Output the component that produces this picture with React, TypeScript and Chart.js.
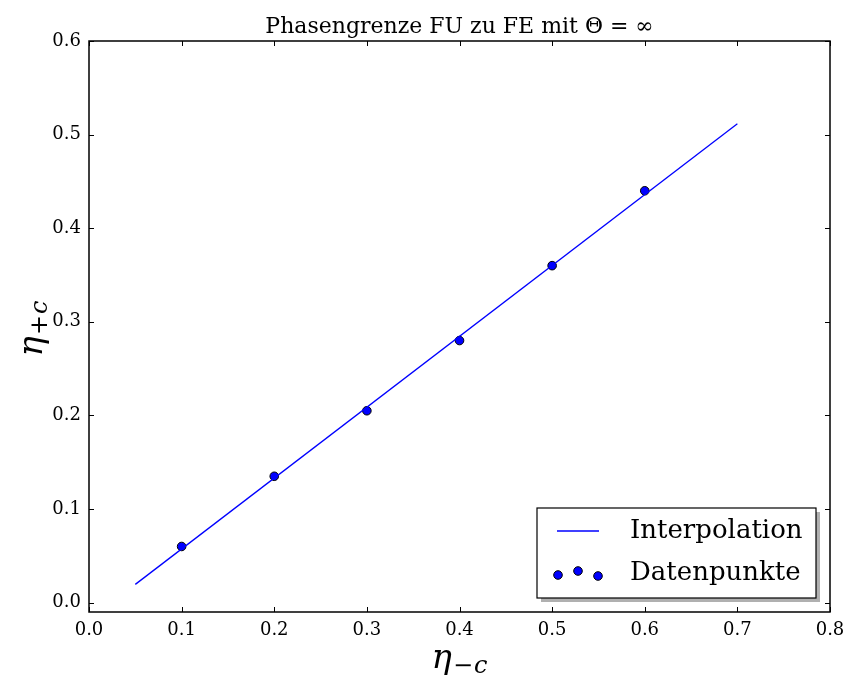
import React, { useEffect, useRef } from "react";
import { Chart, registerables } from "chart.js";

Chart.register(...registerables);

// Measured points of the phase boundary
const ETA_MINUS: number[] = [0.1, 0.2, 0.3, 0.4, 0.5, 0.6];
const ETA_PLUS: number[] = [0.06, 0.135, 0.205, 0.28, 0.36, 0.44];

// Endpoints of the interpolating straight line
const FIT_X: number[] = [0.05, 0.7];
const FIT_Y: number[] = [0.0195, 0.5116];

const X_TICKS: number[] = [0, 0.1, 0.2, 0.3, 0.4, 0.5, 0.6, 0.7, 0.8];
const Y_TICKS: number[] = [0, 0.1, 0.2, 0.3, 0.4, 0.5, 0.6];

const TITLE = "Phasengrenze FU zu FE mit \u0398 = \u221E";
const LEGEND_LINE = "Interpolation";
const LEGEND_POINTS = "Datenpunkte";

const SERIF = "'DejaVu Serif', 'Liberation Serif', serif";
const BLUE = "#0000ff";

const decorPlugin = {
  id: "decor",
  afterDraw(chart: any) {
    const { ctx, chartArea: a, scales } = chart;
    const xs = scales.x;
    const ys = scales.y;
    ctx.save();

    // inward ticks on all four sides
    ctx.strokeStyle = "#000";
    ctx.lineWidth = 1;
    const tl = 5;
    ctx.beginPath();
    X_TICKS.forEach((v) => {
      const px = Math.round(xs.getPixelForValue(v)) + 0.5;
      ctx.moveTo(px, a.bottom);
      ctx.lineTo(px, a.bottom - tl);
      ctx.moveTo(px, a.top);
      ctx.lineTo(px, a.top + tl);
    });
    Y_TICKS.forEach((v) => {
      const py = Math.round(ys.getPixelForValue(v)) + 0.5;
      ctx.moveTo(a.left, py);
      ctx.lineTo(a.left + tl, py);
      ctx.moveTo(a.right, py);
      ctx.lineTo(a.right - tl, py);
    });
    ctx.stroke();

    // frame
    ctx.lineWidth = 1.5;
    ctx.strokeRect(a.left, a.top, a.right - a.left, a.bottom - a.top);

    // title
    ctx.fillStyle = "#000";
    ctx.font = `22px ${SERIF}`;
    ctx.textAlign = "center";
    ctx.textBaseline = "alphabetic";
    ctx.fillText(TITLE, (a.left + a.right) / 2, 33);

    // axis labels: eta with a subscript
    const drawEta = (sub: string) => {
      ctx.font = `italic 34px ${SERIF}`;
      const w1 = ctx.measureText("\u03B7").width;
      ctx.font = `24px ${SERIF}`;
      const wm = ctx.measureText(sub[0]).width;
      ctx.font = `italic 24px ${SERIF}`;
      const wc = ctx.measureText("c").width;
      const total = w1 + wm + wc + 2;
      let x0 = -total / 2;
      ctx.textAlign = "left";
      ctx.font = `italic 34px ${SERIF}`;
      ctx.fillText("\u03B7", x0, 0);
      x0 += w1 + 1;
      ctx.font = `24px ${SERIF}`;
      ctx.fillText(sub[0], x0, 5);
      x0 += wm + 1;
      ctx.font = `italic 24px ${SERIF}`;
      ctx.fillText("c", x0, 5);
    };
    ctx.save();
    ctx.translate((a.left + a.right) / 2, 668);
    drawEta("\u2212");
    ctx.restore();

    ctx.save();
    ctx.translate(42, (a.top + a.bottom) / 2 + 2);
    ctx.rotate(-Math.PI / 2);
    drawEta("+");
    ctx.restore();

    // legend box with shadow
    const lx = 537, ly = 508, lw = 279, lh = 90;
    ctx.fillStyle = "#b0b0b0";
    ctx.fillRect(lx + 4, ly + 4, lw, lh);
    ctx.fillStyle = "#fff";
    ctx.fillRect(lx, ly, lw, lh);
    ctx.strokeStyle = "#000";
    ctx.lineWidth = 1.2;
    ctx.strokeRect(lx, ly, lw, lh);

    ctx.strokeStyle = BLUE;
    ctx.lineWidth = 1.3;
    ctx.beginPath();
    ctx.moveTo(557, 531);
    ctx.lineTo(599, 531);
    ctx.stroke();

    const dots: [number, number][] = [[558, 575], [578, 571], [598, 576]];
    dots.forEach(([dx, dy]) => {
      ctx.beginPath();
      ctx.arc(dx, dy, 4.3, 0, Math.PI * 2);
      ctx.fillStyle = BLUE;
      ctx.fill();
      ctx.strokeStyle = "#000";
      ctx.lineWidth = 1;
      ctx.stroke();
    });

    ctx.fillStyle = "#000";
    ctx.font = `26px ${SERIF}`;
    ctx.textAlign = "left";
    ctx.textBaseline = "middle";
    ctx.fillText(LEGEND_LINE, 630, 531);
    ctx.fillText(LEGEND_POINTS, 630, 573);

    ctx.restore();
  },
};

export default function App() {
  const ref = useRef<HTMLCanvasElement | null>(null);

  useEffect(() => {
    if (!ref.current) return;
    const chart = new Chart(ref.current, {
      type: "scatter",
      data: {
        datasets: [
          {
            type: "line",
            label: LEGEND_LINE,
            data: FIT_X.map((x, i) => ({ x, y: FIT_Y[i] })),
            borderColor: BLUE,
            borderWidth: 1.3,
            pointRadius: 0,
            fill: false,
            tension: 0,
          },
          {
            type: "scatter",
            label: LEGEND_POINTS,
            data: ETA_MINUS.map((x, i) => ({ x, y: ETA_PLUS[i] })),
            backgroundColor: BLUE,
            borderColor: "#000",
            borderWidth: 1,
            pointRadius: 4.3,
          },
        ],
      },
      options: {
        animation: false,
        responsive: false,
        devicePixelRatio: 1,
        layout: { padding: { top: 41, right: 17, left: 0, bottom: 0 } },
        plugins: {
          legend: { display: false },
          title: { display: false },
          tooltip: { enabled: false },
        },
        scales: {
          x: {
            type: "linear",
            min: 0,
            max: 0.8,
            grid: { display: false, drawTicks: false },
            border: { display: false },
            afterBuildTicks: (s: any) => {
              s.ticks = X_TICKS.map((value) => ({ value }));
            },
            afterFit: (s: any) => {
              s.height = 72;
              s.paddingLeft = 0;
              s.paddingRight = 0;
            },
            ticks: {
              color: "#000",
              padding: 8,
              font: { family: SERIF, size: 18 },
              maxRotation: 0,
              callback: (v: any) => Number(v).toFixed(1),
            },
          },
          y: {
            type: "linear",
            min: -0.01,
            max: 0.6,
            grid: { display: false, drawTicks: false },
            border: { display: false },
            afterBuildTicks: (s: any) => {
              s.ticks = Y_TICKS.map((value) => ({ value }));
            },
            afterFit: (s: any) => {
              s.width = 89;
              s.paddingTop = 0;
              s.paddingBottom = 0;
            },
            ticks: {
              color: "#000",
              padding: 8,
              font: { family: SERIF, size: 18 },
              callback: (v: any) => Number(v).toFixed(1),
            },
          },
        },
      },
      plugins: [decorPlugin],
    });
    return () => chart.destroy();
  }, []);

  return (
    <div style={{ position: "fixed", left: 0, top: 0, width: 847, height: 684, background: "#fff" }}>
      <canvas ref={ref} width={847} height={684} style={{ width: 847, height: 684 }} />
    </div>
  );
}
